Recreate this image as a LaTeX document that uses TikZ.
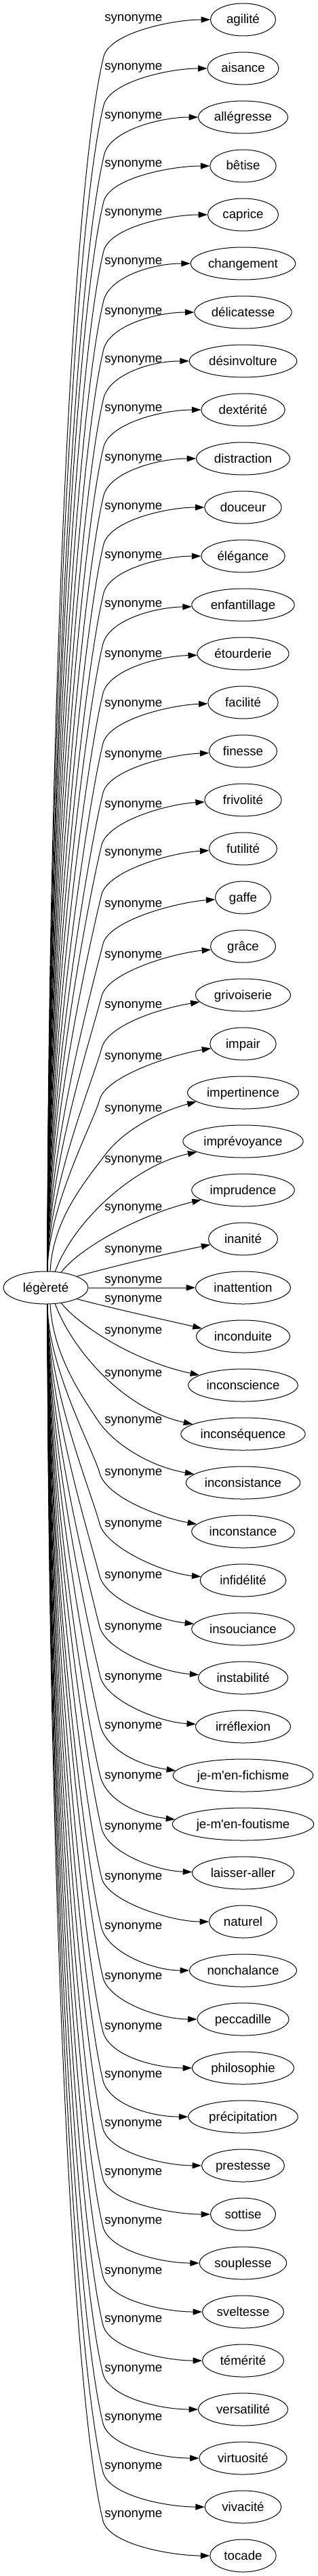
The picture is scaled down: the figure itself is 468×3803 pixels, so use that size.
\documentclass[tikz,border=0pt]{standalone}
\usepackage{fontspec}
\newfontfamily\gv{Liberation Sans}
\usetikzlibrary{shapes.geometric,arrows.meta,calc}
\begin{document}
\begin{tikzpicture}[x=0.75pt,y=-0.75pt,
  every node/.style={font=\gv\fontsize{14pt}{16.8pt}\selectfont},
  tgt/.style={ellipse,draw,line width=0.75pt,inner sep=0pt,minimum height=36pt,text height=12pt,text depth=3pt},
  lbl/.style={anchor=base west,inner sep=0pt},
  syn/.style={line width=0.75pt,-{Triangle[length=10pt,width=6.75pt]}}]
\useasboundingbox (0,0) rectangle (468,3803);
\node[tgt,minimum width=93.75pt] (leg) at (67.5,1901) {légèreté};
\foreach \i/\t/\rx in {0/agilité/48, 1/aisance/52.5, 2/allégresse/66, 3/bêtise/48.7, 4/caprice/52, 5/changement/77.3, 6/délicatesse/71.7, 7/désinvolture/79.3, 8/dextérité/61.7, 9/distraction/69, 10/douceur/56.7, 11/élégance/61.7, 12/enfantillage/75.7, 13/étourderie/67.5, 14/facilité/51.7, 15/finesse/50, 16/frivolité/56.7, 17/futilité/50, 18/gaffe/41, 19/grâce/48, 20/grivoiserie/70, 21/impair/48.7, 22/impertinence/82, 23/imprévoyance/88.7, 24/imprudence/75.8, 25/inanité/51, 26/inattention/70, 27/inconduite/69, 28/inconscience/80.8, 29/inconséquence/91.7, 30/inconsistance/84.2, 31/inconstance/75.8, 32/infidélité/63.3, 33/insouciance/75.8, 34/instabilité/66, 35/irréflexion/70, 36/je-m'en-fichisme/103.3, 37/je-m'en-foutisme/104.3, 38/laisser-aller/75, 39/naturel/50, 40/nonchalance/79, 41/peccadille/67.5, 42/philosophie/75, 43/précipitation/80.8, 44/prestesse/61, 45/sottise/48, 46/souplesse/64.2, 47/sveltesse/60, 48/témérité/60, 49/versatilité/66, 50/virtuosité/64.5, 51/vivacité/56.3, 52/tocade/48.7}
  \node[tgt,minimum width={\rx*1.5pt}] (n\i) at (358.5,{29+72*\i}) {\t};
\foreach \i/\ly in {0/28,1/100,2/172,3/243,4/315,5/387,6/460,7/531,8/603,9/676,10/748,11/820,12/892,13/966,14/1039,15/1114,16/1188,17/1259,18/1335,19/1410,20/1484,21/1560,22/1637,23/1712,24/1783,25/1845,26/1890,27/1918,28/1965,29/2028,30/2097,31/2174,32/2250,33/2326,34/2402,35/2476,36/2548,37/2622,38/2697,39/2771,40/2844,41/2918,42/2992,43/3063,44/3135,45/3207,46/3279,47/3353,48/3424,49/3497,50/3569,51/3641,52/3712}
  \node[lbl] (l\i) at (154,\ly+4) {synonyme};
% upper trunk
\foreach \i/\ky/\kx/\ang/\e in {0/83/153/180/0, 1/155/153/180/0, 2/227/154/180/0, 3/297/153/180/0, 4/370/153/180/0, 5/443/153/180/0, 6/515/153/180/0, 7/587/153/180/0, 8/659/153/180/0, 9/731/153/180/0, 10/803/153/180/0, 11/875/153/180/0, 12/950/152/182/1, 13/1023/152/182/1, 14/1097/152/182/2, 15/1170/152/183/2, 16/1247/150/183/3, 17/1320/150/183/3, 18/1393/152/184/4, 19/1470/150/186/5, 20/1547/150/189/9, 21/1623/147/188/9}{
  \pgfmathsetmacro\L{1877-\ky}
  \pgfmathsetmacro\pay{1877-0.377*\L}
  \pgfmathsetmacro\pbx{\kx-0.0295*\L}
  \pgfmathsetmacro\pby{\ky+0.121*\L}
  \draw[syn] (leg.84) .. controls (70,\pay) and (\pbx,\pby) .. (\kx,\ky) .. controls (\kx+10,\ky-35) and ($(n\i.\ang)+(-55,\e)$) .. (n\i.\ang);
}
% lower trunk
\foreach \i/\ky/\kx/\ang/\e in {31/2175/147/171/-10, 32/2250/147/175/-5, 33/2327/147/174/-6, 34/2402/147/176/-4, 35/2476/148/177/-3, 36/2548/148/176/-8, 37/2623/148/176/-6, 38/2700/150/179/-2, 39/2773/150/180/0, 40/2847/150/180/0, 41/2920/152/180/0, 42/3000/152/180/0, 43/3072/152/180/0, 44/3143/152/180/0, 45/3217/152/180/0, 46/3288/152/180/0, 47/3361/152/180/0, 48/3433/152/180/0, 49/3505/152/180/0, 50/3578/152/180/0, 51/3650/152/180/0, 52/3722/152/180/0}{
  \pgfmathsetmacro\L{\ky-1925}
  \pgfmathsetmacro\pay{1925+0.377*\L}
  \pgfmathsetmacro\pbx{\kx-0.0295*\L}
  \pgfmathsetmacro\pby{\ky-0.121*\L}
  \draw[syn] (leg.-84) .. controls (70,\pay) and (\pbx,\pby) .. (\kx,\ky) .. controls (\kx+10,\ky+35) and ($(n\i.\ang)+(-55,\e)$) .. (n\i.\ang);
}
% middle edges
\draw[syn] (leg.75) .. controls (78,1800) and (125,1745) .. (155,1705) .. controls (185,1665) and (240,1640) .. (n22.191);
\draw[syn] (leg.60) .. controls (110,1800) and (200,1720) .. (n23.193);
\draw[syn] (leg.45) .. controls (115,1845) and (200,1795) .. (n24.193);
\draw[syn] (leg.20) .. controls (180,1866) and (250,1850) .. (n25.190);
\draw[syn] (leg.east) -- (n26.west);
\draw[syn] (leg.-20) .. controls (180,1935) and (250,1950) .. (n27.169);
\draw[syn] (leg.-45) .. controls (120,1960) and (200,2010) .. (n28.167);
\draw[syn] (leg.-60) .. controls (105,1990) and (180,2080) .. (n29.169);
\draw[syn] (leg.-75) .. controls (78,2000) and (120,2060) .. (143,2095) .. controls (165,2130) and (220,2165) .. (n30.170);
\end{tikzpicture}
\end{document}
